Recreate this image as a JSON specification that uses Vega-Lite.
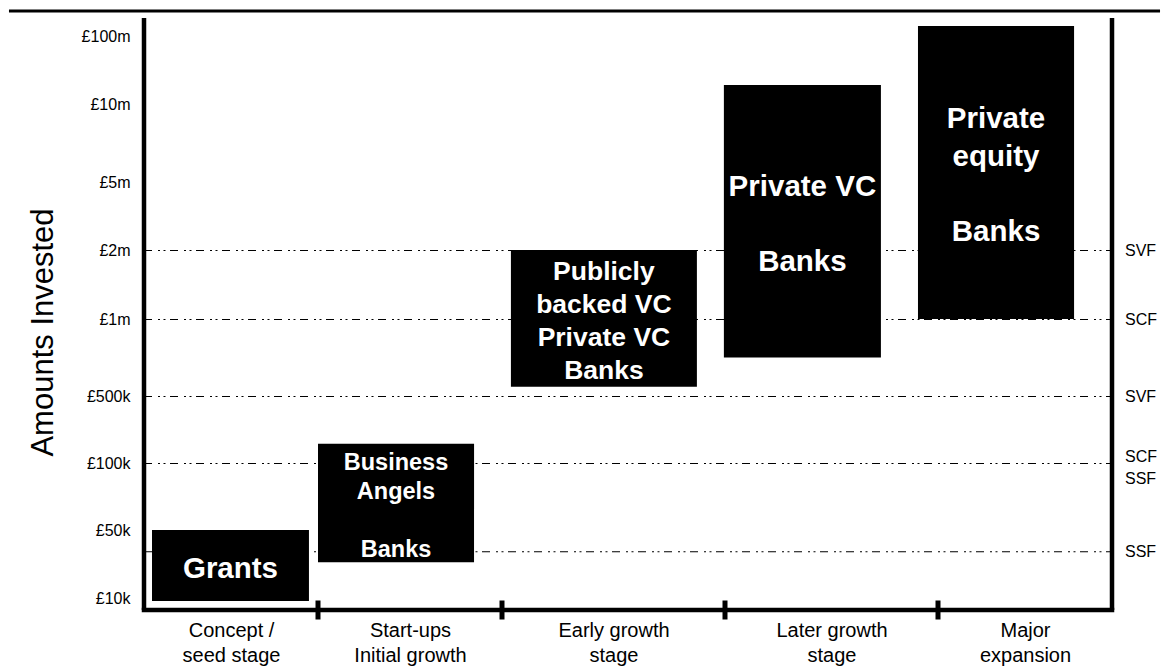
{
  "$schema": "https://vega.github.io/schema/vega-lite/v6.json",
  "width": 968,
  "height": 599,
  "autosize": "none",
  "padding": {"left": 144, "top": 11, "right": 49, "bottom": 58},
  "background": "white",
  "config": {"view": {"stroke": null}, "font": "Liberation Sans"},
  "datasets": {
    "bars": [
      {"stage": "Concept / seed stage", "x1": 0.046, "x2": 0.948, "low": 7500, "high": 50000, "label": "Grants"},
      {"stage": "Start-ups Initial growth", "x1": 1.0, "x2": 1.848, "low": 31000, "high": 215000, "label": "Business\nAngels\n\u2800\nBanks"},
      {"stage": "Early growth stage", "x1": 2.04, "x2": 2.874, "low": 560000, "high": 2000000, "label": "Publicly\nbacked VC\nPrivate VC\nBanks"},
      {"stage": "Later growth stage", "x1": 2.995, "x2": 3.732, "low": 750000, "high": 35000000, "label": "Private VC\n\u2800\nBanks"},
      {"stage": "Major expansion", "x1": 3.906, "x2": 4.782, "low": 1000000, "high": 140000000, "label": "Private\nequity\n\u2800\nBanks"}
    ],
    "thresholds": [
      {"amount": 2000000, "fund": "SVF"},
      {"amount": 1000000, "fund": "SCF"},
      {"amount": 500000, "fund": "SVF"},
      {"amount": 100000, "fund": "SCF\nSSF"},
      {"amount": 37500, "fund": "SSF"}
    ],
    "boundaries": [{"b": 1}, {"b": 2}, {"b": 3}, {"b": 4}]
  },
  "layer": [
    {
      "data": {"values": [{}]},
      "mark": {"type": "rule", "color": "#000", "strokeWidth": 3},
      "encoding": {
        "x": {"datum": -0.776, "type": "quantitative"},
        "x2": {"datum": 5.276},
        "y": {"datum": 200000000, "type": "quantitative"}
      }
    },
    {
      "data": {"name": "thresholds"},
      "mark": {"type": "rule", "color": "#000", "strokeWidth": 1.2, "strokeDash": [8, 6, 2, 3.5, 2, 4.5],
        "y": {"expr": "scale('y', datum.amount) + 0.5"}},
      "encoding": {
        "x": {"datum": 0, "type": "quantitative"},
        "x2": {"datum": 5}
      }
    },
    {
      "data": {"name": "thresholds"},
      "mark": {"type": "text", "align": "left", "baseline": "middle", "dx": 13, "dy": 1, "fontSize": 16, "lineHeight": 22, "lineBreak": "\n", "color": "#000", "font": "Liberation Sans",
        "y": {"expr": "scale('y', datum.amount) - (length(split(datum.fund, '\\n')) - 1) * 7"}},
      "encoding": {
        "x": {"datum": 5, "type": "quantitative"},
        "text": {"field": "fund"}
      }
    },
    {
      "data": {"name": "bars"},
      "mark": {"type": "rect", "color": "#000"},
      "encoding": {
        "x": {
          "field": "x1", "type": "quantitative",
          "scale": {"type": "linear", "domain": [0, 1, 2, 3, 4, 5], "range": [0, 174, 358, 581, 794, 968], "nice": false, "zero": false},
          "axis": {
            "values": [0.5, 1.5, 2.5, 3.5, 4.5],
            "labelExpr": "[['Concept /','seed stage'],['Start-ups','Initial growth'],['Early growth','stage'],['Later growth','stage'],['Major','expansion']][floor(datum.value)]",
            "domain": false, "ticks": false, "tickSize": 0, "grid": false,
            "labelPadding": 10, "labelFontSize": 20, "labelLineHeight": 25, "labelBaseline": "top",
            "labelColor": "#000", "labelFont": "Liberation Sans", "labelOverlap": false, "labelFlush": false, "labelBound": false,
            "title": null
          }
        },
        "x2": {"field": "x2"},
        "y": {
          "field": "low", "type": "quantitative",
          "scale": {"type": "linear", "domain": [0, 10000, 50000, 100000, 500000, 1000000, 2000000, 5000000, 10000000, 100000000, 200000000], "range": [599, 587, 519, 452, 385, 308, 239, 171, 93, 25, 0], "nice": false, "zero": false},
          "axis": {
            "values": [10000, 50000, 100000, 500000, 1000000, 2000000, 5000000, 10000000, 100000000],
            "labelExpr": "datum.value >= 1000000 ? '£' + format(datum.value / 1000000, 'd') + 'm' : '£' + format(datum.value / 1000, 'd') + 'k'",
            "domain": false, "ticks": false, "tickSize": 0, "grid": false,
            "labelPadding": 14, "labelFontSize": 16, "labelColor": "#000", "labelFont": "Liberation Sans", "labelBaseline": "middle",
            "labelOverlap": false, "labelBound": false, "labelFlush": false,
            "title": "Amounts Invested", "titleFontSize": 31, "titleFontWeight": "normal", "titleFont": "Liberation Sans", "titleColor": "#000",
            "titleAngle": 270, "titleX": -92, "titleY": 321, "titleAlign": "center", "titleBaseline": "alphabetic"
          }
        },
        "y2": {"field": "high"}
      }
    },
    {
      "data": {"name": "bars"},
      "transform": [{"filter": {"field": "stage", "oneOf": ["Concept / seed stage", "Later growth stage", "Major expansion"]}}],
      "mark": {
        "type": "text", "color": "white", "fontWeight": "bold", "fontSize": 29.5, "lineHeight": 37.5, "lineBreak": "\n",
        "align": "center", "baseline": "middle", "dy": 3, "font": "Liberation Sans",
        "x": {"expr": "(scale('x', datum.x1) + scale('x', datum.x2)) / 2"},
        "y": {"expr": "(scale('y', datum.low) + scale('y', datum.high)) / 2 - (length(split(datum.label, '\\n')) - 1) * 37.5 / 2"}
      },
      "encoding": {"text": {"field": "label"}}
    },
    {
      "data": {"name": "bars"},
      "transform": [{"filter": {"field": "stage", "equal": "Start-ups Initial growth"}}],
      "mark": {
        "type": "text", "color": "white", "fontWeight": "bold", "fontSize": 23.5, "lineHeight": 29, "lineBreak": "\n",
        "align": "center", "baseline": "middle", "dy": 3, "font": "Liberation Sans",
        "x": {"expr": "(scale('x', datum.x1) + scale('x', datum.x2)) / 2"},
        "y": {"expr": "(scale('y', datum.low) + scale('y', datum.high)) / 2 - (length(split(datum.label, '\\n')) - 1) * 29 / 2"}
      },
      "encoding": {"text": {"field": "label"}}
    },
    {
      "data": {"name": "bars"},
      "transform": [{"filter": {"field": "stage", "equal": "Early growth stage"}}],
      "mark": {
        "type": "text", "color": "white", "fontWeight": "bold", "fontSize": 26.5, "lineHeight": 33, "lineBreak": "\n",
        "align": "center", "baseline": "middle", "dy": 3, "font": "Liberation Sans",
        "x": {"expr": "(scale('x', datum.x1) + scale('x', datum.x2)) / 2"},
        "y": {"expr": "(scale('y', datum.low) + scale('y', datum.high)) / 2 - (length(split(datum.label, '\\n')) - 1) * 33 / 2"}
      },
      "encoding": {"text": {"field": "label"}}
    },
    {
      "data": {"values": [{}]},
      "mark": {"type": "rule", "color": "#000", "strokeWidth": 4.5},
      "encoding": {
        "x": {"datum": 0, "type": "quantitative"},
        "y": {"datum": 0, "type": "quantitative"},
        "y2": {"datum": 172000000}
      }
    },
    {
      "data": {"values": [{}]},
      "mark": {"type": "rule", "color": "#000", "strokeWidth": 4.5},
      "encoding": {
        "x": {"datum": 5, "type": "quantitative"},
        "y": {"datum": 0, "type": "quantitative"},
        "y2": {"datum": 172000000}
      }
    },
    {
      "data": {"values": [{}]},
      "mark": {"type": "rule", "color": "#000", "strokeWidth": 4.5, "strokeCap": "square"},
      "encoding": {
        "x": {"datum": 0, "type": "quantitative"},
        "x2": {"datum": 5},
        "y": {"datum": 0, "type": "quantitative"}
      }
    },
    {
      "data": {"name": "boundaries"},
      "mark": {"type": "tick", "color": "#000", "opacity": 1, "orient": "vertical", "size": 19, "thickness": 5},
      "encoding": {
        "x": {"field": "b", "type": "quantitative"},
        "y": {"datum": 0, "type": "quantitative"}
      }
    }
  ]
}
